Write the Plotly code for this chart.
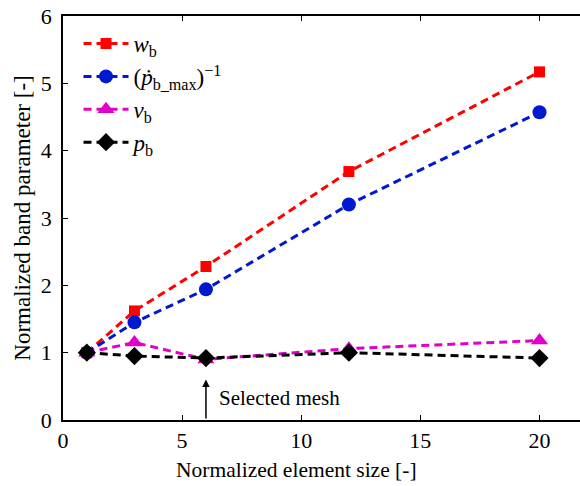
import plotly.graph_objects as go

# Normalized element sizes and band parameters
element_size = [1, 3, 6, 12, 20]
w_b = [1.0, 1.62, 2.28, 3.69, 5.17]
pdot_inv = [1.0, 1.45, 1.94, 3.2, 4.57]
v_b = [1.0, 1.15, 0.9, 1.06, 1.18]
p_b = [1.0, 0.95, 0.92, 1.0, 0.92]

series_names = [
    "<i>w</i><sub>b</sub>",
    "(<i>ṗ</i><sub>b_max</sub>)<sup>−1</sup>",
    "<i>v</i><sub>b</sub>",
    "<i>p</i><sub>b</sub>",
]
series_values = [w_b, pdot_inv, v_b, p_b]
colors = ["#ff0000", "#0018d0", "#e000c8", "#000000"]
symbols = ["square", "circle", "triangle-up", "diamond"]
marker_sizes = [11, 14, 15, 14]

x_ticks = [0, 5, 10, 15, 20]
y_ticks = [0, 1, 2, 3, 4, 5, 6]

FONT = "Liberation Serif, Times New Roman, serif"

fig = go.Figure()
for name, vals, c, s, ms in zip(series_names, series_values, colors, symbols, marker_sizes):
    fig.add_trace(go.Scatter(
        x=element_size, y=vals, name=name, mode="lines+markers",
        line=dict(color=c, width=3, dash="8px,5px"),
        marker=dict(color=c, symbol=s, size=ms),
    ))

fig.add_annotation(
    x=6, y=0.6, ax=6, ay=0.0, xref="x", yref="y", axref="x", ayref="y",
    showarrow=True, arrowhead=2, arrowsize=1, arrowwidth=1.5, arrowcolor="black",
    text="",
)
fig.add_annotation(
    x=6.45, y=0.33, xref="x", yref="y", text="Selected mesh",
    showarrow=False, xanchor="left", yanchor="middle",
    font=dict(family=FONT, size=21, color="black"),
)
# x-axis title
fig.add_annotation(
    x=0.4526, y=-0.124, xref="paper", yref="paper", text="Normalized element size [-]",
    showarrow=False, xanchor="center", yanchor="middle",
    font=dict(family=FONT, size=21.5, color="black"),
)

fig.update_layout(
    width=580, height=486,
    margin=dict(l=63, r=0, t=16, b=66),
    paper_bgcolor="white", plot_bgcolor="white",
    font=dict(family=FONT, size=22, color="black"),
    showlegend=True,
    legend=dict(
        x=0.03, y=0.985, xanchor="left", yanchor="top",
        bgcolor="rgba(0,0,0,0)", font=dict(family=FONT, size=23),
        tracegroupgap=0, itemwidth=45,
    ),
    xaxis=dict(
        range=[0, 21.7], tickvals=x_ticks, showgrid=False, zeroline=False,
        showline=True, linecolor="black", linewidth=1.5, mirror="ticks",
        ticks="inside", ticklen=5, tickcolor="black",
        tickfont=dict(size=22),
    ),
    yaxis=dict(
        range=[0, 6], tickvals=y_ticks, showgrid=False, zeroline=False,
        showline=True, linecolor="black", linewidth=1.5,
        ticks="inside", ticklen=5, tickcolor="black", ticklabelstandoff=5,
        title=dict(text="Normalized band parameter [-]", font=dict(size=23), standoff=4),
        tickfont=dict(size=22),
    ),
)

fig.write_html("out.html")
